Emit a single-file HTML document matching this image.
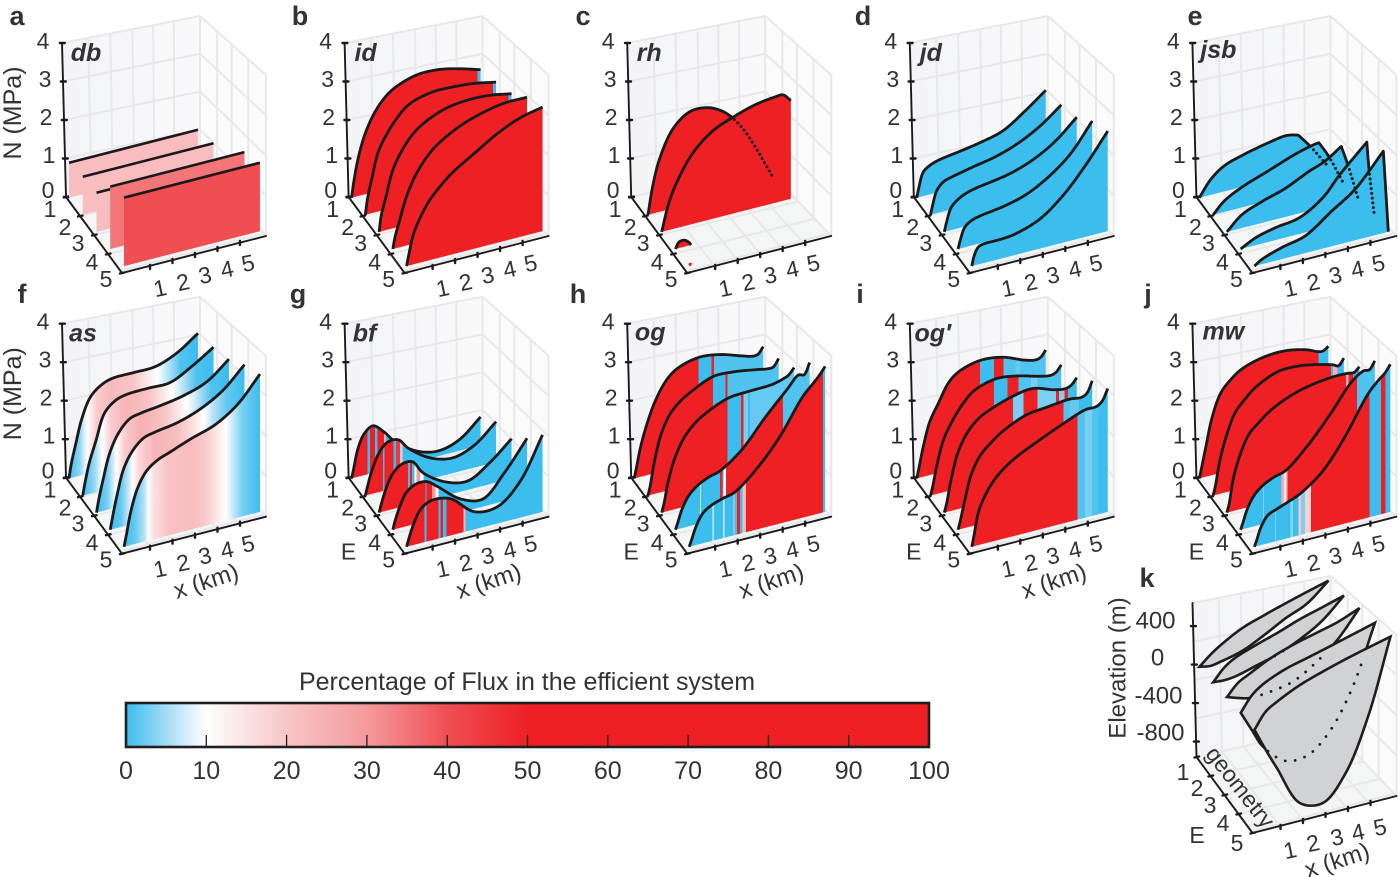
<!DOCTYPE html>
<html lang="en">
<head>
<meta charset="utf-8">
<title>Effective pressure panels</title>
<style>
html,body{margin:0;padding:0;background:#fff;}
#chart{display:block;width:1400px;height:877px;}
text{font-family:"Liberation Sans",sans-serif;fill:#333;}
</style>
</head>
<body>
<svg id="chart" xmlns="http://www.w3.org/2000/svg" width="1400" height="877" viewBox="0 0 1400 877">
<defs>
<linearGradient id="wallLeft" x1="0" x2="1" y1="0" y2="0"><stop offset="0" stop-color="#f3f4f7"/><stop offset="1" stop-color="#f9f9fa"/></linearGradient>
</defs>
</svg>
<script>
// ---------- colour scale ----------
const scalePct = [0,5,10,15,20,30,40,50,100];
const scaleCol = ['#3bbdee','#a3dcf5','#ffffff','#fbe1e2','#f8c6c8','#f49a9d','#ef4f53','#ee2024','#ee2024'];

// ---------- shared sample positions along a sheet (km) ----------
const Xgrid = [0,.1,.3,.6,1,1.5,2,3,4,5,6];
const Xfine = [0,.1,.3,.6,1,1.5,2,3,4,5,5.5,5.75,6];

// ---------- effective pressure N (MPa) per sheet ----------
const X_db = [0,6];
const N_db = [[.92,.92],[.97,.97],[.97,.97],[1.5,1.5],[1.6,1.6]];
const Pct_db = [22,22,22,35,40];

const N_id = [
 [0,.4,.98,1.55,2.02,2.39,2.6,2.79,2.79,2.67,2.5],
 [0,.4,.89,1.53,1.93,2.29,2.53,2.69,2.69,2.64,2.53],
 [0,.4,.8,1.41,1.84,2.19,2.4,2.63,2.7,2.68,2.58],
 [0,.28,.64,1.16,1.62,1.99,2.24,2.54,2.72,2.82,2.82],
 [0,.26,.7,1.05,1.39,1.67,1.9,2.23,2.55,2.78,2.9]];
const BandEnd_id = [[.05,5.85,6],[.05,5.85,6],[.05,5.85,6],[.05,6],[.05,6]];
const BandPct_id = [[0,100,0],[0,100,0],[0,100,0],[0,100],[0,100]];

const X_rh = [[],
 [0,.23,.54,1.16,1.94,2.7,3.3,3.8,4.4,5,5.75],
 [0,.3,.7,1.45,2.36,3.25,4.2,5.1,5.5,5.85],
 [0,.15,.38,.6,.7],
 [0,.05,.1]];
const N_rh = [[],
 [0,.73,1.36,2.04,2.36,2.35,2.2,1.97,1.54,.95,.12],
 [0,.63,1.15,1.78,2.19,2.39,2.55,2.62,2.62,2.43],
 [0,.14,.16,.08,0],
 [.02,.04,.02]];
const DotFrom_rh = [9,3.8,9,9,9];

const N_jd = [
 [0,.26,.63,.76,.84,.89,.93,1.03,1.18,1.54,1.96],
 [0,.24,.59,.76,.83,.89,.95,1.06,1.25,1.54,1.95],
 [0,.22,.55,.71,.82,.89,.93,1.03,1.22,1.53,2.0],
 [0,.2,.48,.6,.66,.7,.74,.88,1.16,1.58,2.25],
 [0,.22,.41,.45,.45,.46,.5,.69,1.09,1.66,2.34]];

const X_jsb = [
 [0,.52,1.15,2.09,3.19,3.97,4.29,4.6,5.15,5.93],
 [0,.51,1.29,2.53,3.77,4.6,4.85,5.29,5.94],
 [0,.68,1.6,2.66,3.73,4.41,5.18,5.48,5.94],
 [0,.68,1.58,2.63,3.68,4.44,5.64,5.74,5.97],
 [0,.32,1.21,2.24,3.41,4.44,5.69,5.91]];
const N_jsb = [
 [0,.4,.67,.84,.98,1.05,1.03,.98,.61,0],
 [0,.28,.51,.76,1.01,1.13,1.15,.75,0],
 [0,.33,.53,.71,.98,1.12,1.39,.89,0],
 [0,.18,.3,.39,.73,1.18,1.79,1.12,0],
 [0,.11,.27,.4,.82,1.19,1.91,0]];
const DotFrom_jsb = [5.15,5.29,5.48,5.74,9];
const Corner_jsb = [4.6,4.85,5.18,5.64,5.69];

const N_as = [
 [0,.35,.83,1.49,2.0,2.24,2.34,2.35,2.36,2.57,2.95],
 [0,.3,.79,1.3,1.96,2.21,2.29,2.31,2.31,2.58,2.93],
 [0,.3,.78,1.39,1.83,2.11,2.18,2.25,2.35,2.54,2.96],
 [0,.28,.78,1.38,1.76,2.0,2.07,2.16,2.34,2.64,3.14],
 [0,.25,.78,1.29,1.64,1.83,1.93,2.13,2.3,2.64,3.22]];
const FluxX_as = [0,.5,.9,1.3,2,3,3.5,4.1,4.6,5.2,6];
const FluxP_as = [
 [0,4,11,19,23,20,15,10,6,1,0],
 [0,4,10,19,24,21,16,10,6,1,0],
 [0,3,10,19,25,21,16,10,6,1,0],
 [0,2,8,17,24,22,17,11,6,2,0],
 [0,2,6,15,21,22,20,14,9,3,0]];

const N_bf = [
 [0,.25,.75,1.1,1.24,1.01,.69,.29,.14,.29,.75],
 [0,.22,.59,.97,1.21,1.21,.91,.53,.39,.57,1.03],
 [0,.2,.53,.86,1.05,1.05,.7,.34,.22,.53,.99],
 [0,.2,.5,.81,.95,.95,.76,.33,.18,.69,1.37],
 [0,.18,.48,.78,.92,.93,.84,.41,.39,.84,1.8]];
const BandEnd_bf = [
 [.75,.85,1.1,1.2,1.5,1.6,6],
 [.8,.88,1.3,1.4,1.6,1.7,6],
 [1.3,1.4,1.5,1.6,1.7,1.85,2,6],
 [1.45,1.5,1.75,1.9,2.05,6],
 [.8,.87,1.4,1.5,1.6,1.75,2.5,2.6,6]];
const BandPct_bf = [
 [100,0,100,0,100,25,0],
 [100,0,100,0,45,20,0],
 [100,0,100,0,10,30,10,0],
 [100,0,100,30,10,0],
 [100,0,100,0,100,0,100,25,0]];

const N_og = [
 [0,.26,.79,1.36,1.92,2.37,2.6,2.75,2.68,2.5,2.42,2.43,2.6],
 [0,.22,.83,1.47,1.92,2.2,2.37,2.61,2.59,2.5,2.45,2.46,2.64],
 [0,.2,.74,1.27,1.7,2.0,2.18,2.41,2.45,2.47,2.54,2.6,2.75],
 [0,.15,.46,.74,.93,1.06,1.14,1.53,2.14,2.69,2.96,2.93,3.19],
 [0,.14,.43,.7,.84,.93,1.0,1.43,2.03,2.82,3.09,3.23,3.4]];
const BandEnd_og = [
 [2.98,3.6,3.7,6],
 [2.98,3.57,3.65,6],
 [2.97,3.58,3.7,3.9,4,6],
 [1.1,1.15,2,2.1,2.15,2.25,4.8,6],
 [1.03,1.09,1.5,1.56,1.95,2,2.1,2.25,2.35,2.5,5.91,6]];
const BandPct_og = [
 [100,0,100,1],
 [100,0,100,1],
 [100,0,100,3,0,2],
 [0,7,0,100,0,10,100,1],
 [0,7,0,7,0,20,0,100,0,22,100,0]];

const N_ogp = [
 [0,.26,.79,1.4,1.83,2.32,2.54,2.68,2.61,2.39,2.32,2.35,2.51],
 [0,.22,.75,1.34,1.76,2.14,2.39,2.55,2.48,2.33,2.28,2.32,2.48],
 [0,.2,.75,1.37,1.8,2.09,2.24,2.43,2.51,2.34,2.3,2.35,2.5],
 [0,.2,.66,1.26,1.65,1.9,2.09,2.33,2.4,2.45,2.42,2.48,2.75],
 [0,.26,.78,1.13,1.43,1.67,1.84,2.09,2.32,2.52,2.53,2.62,2.88]];
const BandEnd_ogp = [
 [2.95,3.58,4.03,4.6,4.8,6],
 [2.91,3.53,4.03,4.6,4.9,6],
 [3.1,3.58,4.22,5.05,5.2,5.45,5.6,6],
 [4.72,5,5.4,6],
 [4.66,5,5.3,5.6,6]];
const BandPct_ogp = [
 [100,0,100,1,2,1],
 [100,0,100,1,3,1],
 [100,3,100,3,100,3,100,0],
 [100,1,2,0],
 [100,1,3,1,0]];

const N_mw = [
 [0,.26,.79,1.54,2.11,2.41,2.6,2.76,2.78,2.66,2.54,2.52,2.61],
 [0,.22,.83,1.42,1.96,2.27,2.5,2.74,2.74,2.63,2.55,2.49,2.65],
 [0,.2,.82,1.35,1.8,2.05,2.26,2.51,2.64,2.69,2.68,2.66,2.77],
 [0,.15,.46,.74,.93,1.06,1.14,1.61,2.22,2.89,3.06,3.05,3.23],
 [0,.14,.43,.66,.75,.85,.96,1.35,2.03,2.88,3.16,3.27,3.45]];
const BandEnd_mw = [
 [5.54,6],
 [5.4,5.5,5.7,6],
 [5.4,5.5,5.7,6],
 [1,1.05,1.83,1.95,2.03,2.1,5.19,6],
 [.9,.95,1.6,1.7,1.95,2.05,2.24,2.5,5.07,5.59,5.79,6]];
const BandPct_mw = [
 [100,0],
 [100,0,25,0],
 [100,25,100,0],
 [0,3,0,25,10,25,100,1],
 [0,3,0,4,0,20,3,18,100,0,100,0]];

// ---------- geometry panel: surface and bed elevation (m) ----------
const Xk = [0,.5,1,2,3,4,5,6];
const Surface_k = [
 [-3,93,170,290,365,433,496,556],
 [-15,104,175,255,325,403,464,528],
 [-21,92,150,255,329,385,440,524],
 [-35,106,185,275,330,385,442,499],
 [-60,84,149,249,319,380,434,484]];
const Bed_k = [
 [-3,-23,-5,50,156,275,373,556],
 [-15,-24,-14,43,104,199,328,528],
 [-21,-58,-87,-77,-34,91,266,524],
 [-35,-230,-416,-608,-608,-426,-64,499],
 [-60,-276,-476,-853,-909,-691,-216,484]];
const BedDotFrom_k = [9,1.95,1.55,.9,9];
const BedDotTo_k = [9,3.4,4.5,5.5,9];

// ---------- tick labels ----------
const yTicks = [0,1,2,3,4];
const eTicks = ['1','2','3','4','5'];
const xTicks = ['1','2','3','4','5'];
const elevTicks = [-800,-400,0,400];
const cbTicks = [0,10,20,30,40,50,60,70,80,90,100];

// ---------- helpers ----------
const svg = document.getElementById('chart');
const NS = 'http://www.w3.org/2000/svg';
function mk(tag, attrs, parent, txt){
  const e = document.createElementNS(NS, tag);
  for (const k in attrs) e.setAttribute(k, attrs[k]);
  if (txt !== undefined) e.textContent = txt;
  (parent || svg).appendChild(e);
  return e;
}
const lerp = (a,b,t)=>[a[0]+(b[0]-a[0])*t, a[1]+(b[1]-a[1])*t];
const pts = a => a.map(p=>p[0].toFixed(1)+','+p[1].toFixed(1)).join(' ');
const pathOf = a => 'M'+a.map(p=>p[0].toFixed(2)+' '+p[1].toFixed(2)).join('L');
function hex(c){return [1,3,5].map(i=>parseInt(c.substr(i,2),16));}
function colorOf(p){
  let i=0; while(i<scalePct.length-2 && p>scalePct[i+1]) i++;
  const t=Math.max(0,Math.min(1,(p-scalePct[i])/(scalePct[i+1]-scalePct[i])));
  const a=hex(scaleCol[i]), b=hex(scaleCol[i+1]);
  return 'rgb('+a.map((v,k)=>Math.round(v+(b[k]-v)*t)).join(',')+')';
}
// axis functions: sheet index i (0 = E1), distance x along sheet, value N
const sx = (i,x)=>69+13.75*i+x*(21.5+.29*i);
const sy = (i,x,N)=>197.7+17.1*i-x*(5.5+.08*i)-N*(38+1.2*i);
const elevToN = e=>e/400+2.4;
// wall corners in panel-local pixels
const A=[66,197],At=[62,43],D=[200,167],Dt=[200,16],C=[266,236],Ct=[266,75],B=[122,273];
const wallUs=[.19,.35,.51,.66,.81], rightUs=[.26,.48,.73], levels=[.25,.5,.75], floorUs=[.19,.35,.51,.66,.81];

// centripetal spline through projected points; each sample keeps its x parameter
function spline(p){
  const n=p.length;
  if(n<3) return p.slice();
  const t=[0];
  for(let k=1;k<n;k++){
    t.push(t[k-1]+Math.max(.01,Math.sqrt(Math.hypot(p[k][0]-p[k-1][0],p[k][1]-p[k-1][1]))));
  }
  const tan=d=>{
    const m=new Array(n);
    for(let k=1;k<n-1;k++){
      const d0=t[k]-t[k-1],d1=t[k+1]-t[k];
      m[k]=(p[k][d]-p[k-1][d])/d0-(p[k+1][d]-p[k-1][d])/(d0+d1)+(p[k+1][d]-p[k][d])/d1;
    }
    m[0]=(p[1][d]-p[0][d])/(t[1]-t[0]);
    m[n-1]=(p[n-1][d]-p[n-2][d])/(t[n-1]-t[n-2]);
    return m;
  };
  const mx=tan(0),my=tan(1),out=[];
  for(let k=0;k<n-1;k++){
    const dt=t[k+1]-t[k];
    for(let s=0;s<12;s++){
      const u=s/12,u2=u*u,u3=u2*u;
      const h00=2*u3-3*u2+1,h10=u3-2*u2+u,h01=-2*u3+3*u2,h11=u3-u2;
      out.push([
        h00*p[k][0]+h10*dt*mx[k]+h01*p[k+1][0]+h11*dt*mx[k+1],
        h00*p[k][1]+h10*dt*my[k]+h01*p[k+1][1]+h11*dt*my[k+1],
        p[k][2]+(p[k+1][2]-p[k][2])*u
      ]);
    }
  }
  out.push(p[n-1]);
  return out;
}
// spline with a sharp corner at one x position
function splineCorner(p,cx){
  const k=p.findIndex(q=>q[2]===cx);
  if(k<1||k>=p.length-1) return spline(p);
  return spline(p.slice(0,k+1)).concat(spline(p.slice(k)));
}
function bandStops(ends,pcts){
  const st=[];let prev=0;
  ends.forEach((e,k)=>{st.push([prev,colorOf(pcts[k])]);st.push([e,colorOf(pcts[k])]);prev=e;});
  return st;
}
function smoothStops(xs,ps){
  const st=[];
  for(let k=0;k<xs.length-1;k++){
    for(let s=0;s<5;s++){
      const t=s/5;
      st.push([xs[k]+(xs[k+1]-xs[k])*t,colorOf(ps[k]+(ps[k+1]-ps[k])*t)]);
    }
  }
  st.push([xs[xs.length-1],colorOf(ps[ps.length-1])]);
  return st;
}
const defs = svg.querySelector('defs');
let gradId=0;
function sheetGradient(i,stops){
  const id='g'+(gradId++);
  const g=mk('linearGradient',{id:id,gradientUnits:'userSpaceOnUse',x1:sx(i,0),x2:sx(i,6),y1:0,y2:0},defs);
  stops.forEach(s=>mk('stop',{offset:(s[0]/6).toFixed(4),'stop-color':s[1]},g));
  return 'url(#'+id+')';
}

function drawFrame(g,key){
  const wl=mk('polygon',{points:pts([A,At,Dt,D]),fill:'url(#wallLeft)'},g);
  
  
  const wr=mk('polygon',{points:pts([D,Dt,Ct,C]),fill:'#fbfbfc'},g);
  
  
  const fl=mk('polygon',{points:pts([A,D,C,B]),fill:'#f4f6f6'},g);
  
  
  const gr=mk('g',{stroke:'#e8e8ea','stroke-width':2,fill:'none'},g);
  
  
  const line=(a,b)=>mk('line',{x1:a[0],y1:a[1],x2:b[0],y2:b[1]},gr);
  wallUs.forEach(u=>line(lerp(A,D,u),lerp(At,Dt,u)));
  rightUs.forEach(u=>line(lerp(D,C,u),lerp(Dt,Ct,u)));
  levels.forEach(v=>{line(lerp(A,At,v),lerp(D,Dt,v));line(lerp(D,Dt,v),lerp(C,Ct,v));});
  floorUs.forEach(u=>line(lerp(A,D,u),lerp(B,C,u)));
  levels.forEach(v=>line(lerp(A,B,v),lerp(D,C,v)));
  line(At,Dt);line(Dt,Ct);line(Dt,D);line(Ct,C);line(D,C);line(A,D);
  line([B[0]+2,B[1]-3],[C[0],C[1]-3]);
}
function drawAxes(g,key,yVals,yFn){
  const ax=mk('g',{stroke:'#1c1a1a','stroke-width':1.9,fill:'none','stroke-linecap':'round'},g);
  
  
  const line=(a,b,w)=>mk('line',{x1:a[0],y1:a[1],x2:b[0],y2:b[1],'stroke-width':w||1.9},ax);
  line(At,A);line(A,B);line(B,C);
  yVals.forEach(v=>{const p=lerp(A,At,yFn(v)/4);line([p[0]-2.2,p[1]],[p[0]+2.8,p[1]],2.4);});
  eTicks.forEach((t,k)=>{const p=lerp(A,B,k/4);line([p[0]-2,p[1]+.5],[p[0]+2.5,p[1]-.5],2.4);});
  xTicks.forEach((t,k)=>{const p=[150+k*22.5,267-k*6];line([p[0],p[1]-2],[p[0],p[1]+2],2.4);});
}
function label(g,x,y,s,size,name,rot,extra){
  const a={x:x,y:y,'text-anchor':'middle',dy:'.35em','font-size':size||23};
  if(rot) a.transform='rotate('+rot+' '+x+' '+y+')';
  if(extra) for(const k in extra) a[k]=extra[k];
  const t=mk('text',a,g,s);
  
  
  return t;
}
const yLabelPos=[[48,190],[49,155],[46,117],[45,79],[43,41]];
const eLabelPos=[[50,209],[65,227],[78,243],[92,262],[106,279]];
const xLabelPos=[[160,288],[183,282],[205,275],[227,269],[248,263]];

function drawPanel(key,col,row,letter,lx,ly,nameX,nameY,Xs,Ns,stopsFor,dotFrom,opts){
  const ox=col*282.6, oy=row*280.7;
  const g=mk('g',{transform:'translate('+ox+' '+oy+')'});
  
  
  drawFrame(g,key);
  drawAxes(g,key,yTicks,v=>v);
  yTicks.forEach((v,k)=>label(g,yLabelPos[k][0],yLabelPos[k][1],String(v),23,key+'-y-tick-'+v));
  eTicks.forEach((v,k)=>label(g,eLabelPos[k][0],eLabelPos[k][1],v,23,key+'-e-tick-'+v));
  xTicks.forEach((v,k)=>label(g,xLabelPos[k][0],xLabelPos[k][1],v,23,key+'-x-tick-'+v,-12));
  if(opts.nLabel){label(g,12,113,'N (MPa)',25,key+'-y-axis-title',-90);}
  if(opts.xLabel){label(g,206,300,'x (km)',24,key+'-x-axis-title',-18);}
  if(opts.eLabel){label(g,66,271,'E',23,key+'-e-axis-title');}
  const sh=mk('g',{},g);
  
  
  const dense=[];
  for(let i=0;i<5;i++){
    const xs=Array.isArray(Xs[0])?Xs[i]:Xs, ns=Ns[i];
    if(!ns||!ns.length){dense.push(null);continue;}
    const raw=xs.map((x,k)=>[sx(i,x),sy(i,x,ns[k]),x]);
    const c=opts.corners?splineCorner(raw,opts.corners[i]):spline(raw);
    dense.push(c);
    const x0=xs[0],x1=xs[xs.length-1];
    const poly=[[sx(i,x0),sy(i,x0,0)]].concat(c,[[sx(i,x1),sy(i,x1,0)]]);
    const f=mk('path',{d:pathOf(poly)+'Z',fill:sheetGradient(i,stopsFor(i))},sh);
    
    
    const tiny=Math.max.apply(null,ns)<.05;
    const l=mk('path',{d:pathOf(c),fill:'none',stroke:tiny?'#ee2024':'#1b1919','stroke-width':opts.lineW||2.8,'stroke-linejoin':'round','stroke-linecap':'butt'},sh);
    
    
  }
  if(dotFrom){
    dense.forEach((c,i)=>{
      if(!c) return;
      const part=c.filter(p=>p[2]>=dotFrom[i]);
      if(part.length<2) return;
      const d=mk('path',{d:pathOf(part),fill:'none',stroke:'#1b1919','stroke-width':3,'stroke-linecap':'round','stroke-dasharray':'0 4.8'},g);
      
      
    });
  }
  label(g,nameX,nameY,key==='ogp'?"og\u2032":key,25,key+'-scenario-label',0,{'font-weight':'bold','font-style':'italic',fill:'#231f20'});
  const lt=mk('text',{x:lx-ox,y:ly-oy,'text-anchor':'middle','font-size':27,'font-weight':'bold',fill:'#231f20'},g,letter);
  
  
}

const solid = p => i => [[0,colorOf(p)],[6,colorOf(p)]];
const bands = (E,P) => i => bandStops(E[i],P[i]);

drawPanel('db',0,0,'a',17,25,86,52,X_db,N_db,i=>[[0,colorOf(Pct_db[i])],[6,colorOf(Pct_db[i])]],null,{nLabel:true,lineW:2.6});
drawPanel('id',1,0,'b',300,25,83,52,Xgrid,N_id,bands(BandEnd_id,BandPct_id),null,{});
drawPanel('rh',2,0,'c',583,25,84,52,X_rh,N_rh,solid(100),DotFrom_rh,{});
drawPanel('jd',3,0,'d',863,25,83,52,Xgrid,N_jd,solid(0),null,{});
drawPanel('jsb',4,0,'e',1195,25,88,49,X_jsb,N_jsb,solid(0),DotFrom_jsb,{corners:Corner_jsb});
drawPanel('as',0,1,'f',22,303,83,52,Xgrid,N_as,i=>smoothStops(FluxX_as,FluxP_as[i]),null,{nLabel:true,xLabel:true});
drawPanel('bf',1,1,'g',298,303,82,52,Xgrid,N_bf,bands(BandEnd_bf,BandPct_bf),null,{xLabel:true,eLabel:true});
drawPanel('og',2,1,'h',578,303,85,51,Xfine,N_og,bands(BandEnd_og,BandPct_og),null,{xLabel:true,eLabel:true});
drawPanel('ogp',3,1,'i',860,303,85,52,Xfine,N_ogp,bands(BandEnd_ogp,BandPct_ogp),null,{xLabel:true,eLabel:true});
drawPanel('mw',4,1,'j',1148,303,93,50,Xfine,N_mw,bands(BandEnd_mw,BandPct_mw),null,{eLabel:true});

// ---------- panel k: glacier geometry ----------
(function(){
  const ox=1130.5, oy=560;
  const g=mk('g',{transform:'translate('+ox+' '+oy+')'});
  
  
  drawFrame(g,'geometry');
  drawAxes(g,'geometry',elevTicks,elevToN);
  const yl=[[30,172],[28,135],[27,97],[25,60]];
  elevTicks.forEach((v,k)=>label(g,yl[k][0],yl[k][1],String(v),24,'geometry-y-tick-'+v));
  const el=[[52.5,212],[66.5,228],[79.5,245],[92.5,263],[106.5,283]];
  eTicks.forEach((v,k)=>label(g,el[k][0],el[k][1],v,23,'geometry-e-tick-'+v));
  const xl=[[159.5,290],[182.5,283],[206.5,277],[227.5,272],[249.5,267]];
  xTicks.forEach((v,k)=>label(g,xl[k][0],xl[k][1],v,23,'geometry-x-tick-'+v,-12));
  label(g,-13.5,108,'Elevation (m)',24,'geometry-y-axis-title',-90);
  label(g,66.5,275,'E',23,'geometry-e-axis-label');
  label(g,206.5,300,'x (km)',24,'geometry-x-axis-title',-18);
  for(let i=0;i<5;i++){
    const top=spline(Xk.map((x,k)=>[sx(i,x),sy(i,x,elevToN(Surface_k[i][k])),x]));
    const bot=spline(Xk.map((x,k)=>[sx(i,x),sy(i,x,elevToN(Bed_k[i][k])),x]));
    const s=mk('path',{d:pathOf(top.concat(bot.slice().reverse()))+'Z',fill:'#d1d2d4',stroke:'#1f1d1d','stroke-width':2.6,'stroke-linejoin':'miter'},g);
    
    
  }
  for(let i=0;i<5;i++){
    const bot=spline(Xk.map((x,k)=>[sx(i,x),sy(i,x,elevToN(Bed_k[i][k])),x]));
    const part=bot.filter(p=>p[2]>=BedDotFrom_k[i]&&p[2]<=BedDotTo_k[i]);
    if(part.length<2) continue;
    const d=mk('path',{d:pathOf(part),fill:'none',stroke:'#1f1d1d','stroke-width':2.8,'stroke-linecap':'round','stroke-dasharray':'0 10'},g);
    
    
  }
  label(g,110,227,'geometry',23,'geometry-e-axis-title',52);
  const lt=mk('text',{x:16.5,y:27,'text-anchor':'middle','font-size':27,'font-weight':'bold',fill:'#231f20'},g,'k');
  
  
})();

// ---------- colour bar ----------
(function(){
  const g=mk('g',{});
  
  
  const L=126,R=929,T=703,Bt=747;
  const pos=p=>L+(R-L)*p/100;
  const id='cbGrad';
  const gr=mk('linearGradient',{id:id,x1:0,x2:1,y1:0,y2:0},defs);
  scalePct.forEach((p,k)=>mk('stop',{offset:p/100,'stop-color':scaleCol[k]},gr));
  const r=mk('rect',{x:L,y:T,width:R-L,height:Bt-T,fill:'url(#'+id+')',stroke:'#231f20','stroke-width':2.6},g);
  
  
  cbTicks.forEach(v=>{
    if(v>0&&v<100){
      const t=mk('line',{x1:pos(v),x2:pos(v),y1:735,y2:Bt,stroke:'#231f20','stroke-width':1.3},g);
      
      
    }
    label(g,pos(v),770,String(v),25,'colorbar-label-'+v);
  });
  label(g,527,681,'Percentage of Flux in the efficient system',25,'colorbar-title',0,{textLength:456,lengthAdjust:'spacingAndGlyphs'});
})();
</script>
</body>
</html>
